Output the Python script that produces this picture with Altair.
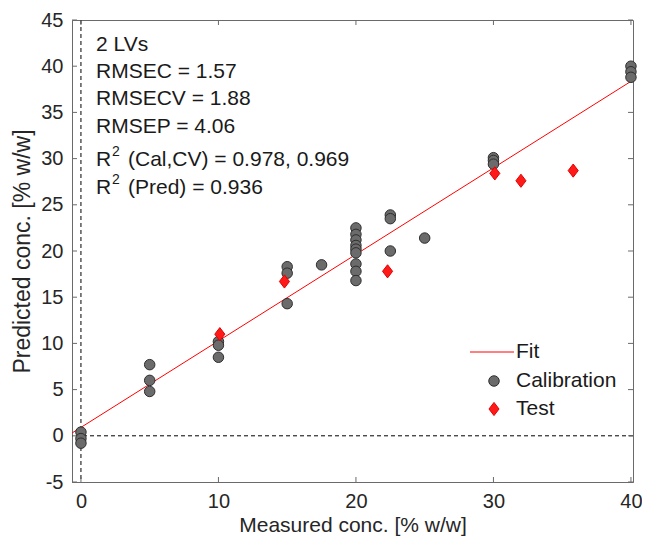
import altair as alt
import pandas as pd

# ---- data ----
cal_x = [0, 0, 0, 5, 5, 5, 10, 10, 10, 15, 15, 15, 17.5,
         20, 20, 20, 20, 20, 20, 20, 20, 20,
         22.5, 22.5, 22.5, 25, 30, 30, 30, 40, 40, 40]
cal_y = [0.4, -0.3, -0.8, 7.7, 6.0, 4.8, 10.2, 9.8, 8.5, 18.3, 17.6, 14.3, 18.5,
         22.5, 21.8, 21.2, 20.6, 20.2, 19.8, 18.6, 17.8, 16.8,
         23.9, 23.5, 20.0, 21.4, 30.1, 29.8, 29.4, 40.0, 39.4, 38.8]
test_x = [10.1, 14.8, 22.3, 30.1, 32.0, 35.8]
test_y = [11.0, 16.7, 17.8, 28.4, 27.6, 28.7]
fit_x = [-0.65, 40.15]
fit_y = [0.3, 38.5]
x_ticks = [0, 10, 20, 30, 40]
y_ticks = [-5, 0, 5, 10, 15, 20, 25, 30, 35, 40, 45]
stats_lines = ["2 LVs", "RMSEC = 1.57", "RMSECV = 1.88", "RMSEP = 4.06"]
r2_lines = ["(Cal,CV) = 0.978, 0.969", "(Pred) = 0.936"]
legend_labels = ["Fit", "Calibration", "Test"]

W, H = 561, 462
FONT = "Liberation Sans"
AX = "#6a6a6a"
TXT = "#1a1a1a"

xs = alt.Scale(domain=[-0.65, 40.15], nice=False, zero=False)
ys = alt.Scale(domain=[-5, 45], nice=False, zero=False)

cal = pd.DataFrame({"x": cal_x, "y": cal_y})
test = pd.DataFrame({"x": test_x, "y": test_y})
fit = pd.DataFrame({"x": fit_x, "y": fit_y})
xt = pd.DataFrame({"v": x_ticks})
yt = pd.DataFrame({"v": y_ticks})
one = pd.DataFrame({"v": [0]})

X = lambda f="x": alt.X(f + ":Q", scale=xs)
Y = lambda f="y": alt.Y(f + ":Q", scale=ys)

base_axes = alt.Chart(cal).mark_point(opacity=0).encode(
    x=alt.X("x:Q", scale=xs, axis=alt.Axis(
        values=x_ticks, title="Measured conc. [% w/w]", grid=False, ticks=False,
        labelPadding=9, domainColor=AX, titleFontSize=21,
        titleBaseline="alphabetic", titleY=49,
        labelExpr="'' + datum.value")),
    y=alt.Y("y:Q", scale=ys, axis=alt.Axis(
        values=y_ticks, title="Predicted conc. [% w/w]", grid=False, ticks=False,
        labelPadding=9, titlePadding=6, domainColor=AX,
        labelExpr="'' + datum.value")),
)

zero_v = alt.Chart(one).mark_rule(color="#000", strokeDash=[4, 3], strokeWidth=1).encode(x=X("v"))
zero_h = alt.Chart(one).mark_rule(color="#000", strokeDash=[4, 3], strokeWidth=1).encode(y=Y("v"))

tb = alt.Chart(xt).mark_rule(color=AX).encode(x=X("v"), y=alt.value(H), y2=alt.value(H - 5))
tt = alt.Chart(xt).mark_rule(color=AX).encode(x=X("v"), y=alt.value(0), y2=alt.value(5))
tl = alt.Chart(yt).mark_rule(color=AX).encode(y=Y("v"), x=alt.value(0), x2=alt.value(5))
tr = alt.Chart(yt).mark_rule(color=AX).encode(y=Y("v"), x=alt.value(W), x2=alt.value(W - 5))

fit_line = alt.Chart(fit).mark_line(color="#ff0000", strokeWidth=1).encode(x=X(), y=Y())

CIRC = dict(shape="circle", filled=True, fill="#6b6b6b", stroke="#2e2e2e",
            strokeWidth=1, size=110, opacity=1)
DIAMOND = "M0,-1.2L0.92,0L0,1.2L-0.92,0Z"
DIA = dict(shape=DIAMOND, filled=True, fill="#ff1a1a", stroke="#e00000",
           strokeWidth=1, size=120, opacity=1)

cal_pts = alt.Chart(cal).mark_point(**CIRC).encode(x=X(), y=Y())
test_pts = alt.Chart(test).mark_point(**DIA).encode(x=X(), y=Y())

layers = [base_axes, zero_v, zero_h, tb, tt, tl, tr, fit_line, cal_pts, test_pts]

# ---- annotation text ----
TX = 24
FS = 21
for t, py in zip(stats_lines, [31, 58, 85, 113]):
    layers.append(alt.Chart(one).mark_text(
        align="left", baseline="alphabetic", font=FONT, fontSize=FS, color=TXT, text=t
    ).encode(x=alt.value(TX), y=alt.value(py)))
for t, py in zip(r2_lines, [146, 174]):
    layers.append(alt.Chart(one).mark_text(
        align="left", baseline="alphabetic", font=FONT, fontSize=FS, color=TXT, text="R"
    ).encode(x=alt.value(TX), y=alt.value(py)))
    layers.append(alt.Chart(one).mark_text(
        align="left", baseline="alphabetic", font=FONT, fontSize=14, color=TXT, text="2"
    ).encode(x=alt.value(TX + 16), y=alt.value(py - 10)))
    layers.append(alt.Chart(one).mark_text(
        align="left", baseline="alphabetic", font=FONT, fontSize=FS, color=TXT, text=t
    ).encode(x=alt.value(TX + 32), y=alt.value(py)))

# ---- manual legend ----
LX = 422
lg_y = [332, 361, 389]
for t, py in zip(legend_labels, lg_y):
    layers.append(alt.Chart(one).mark_text(
        align="left", baseline="middle", font=FONT, fontSize=FS, color=TXT, text=t
    ).encode(x=alt.value(LX + 22), y=alt.value(py)))
layers.append(alt.Chart(one).mark_rule(color="#ff0000", strokeWidth=1).encode(
    x=alt.value(LX - 24), x2=alt.value(LX + 20), y=alt.value(lg_y[0])))
layers.append(alt.Chart(one).mark_point(**CIRC).encode(x=alt.value(LX), y=alt.value(lg_y[1])))
layers.append(alt.Chart(one).mark_point(**DIA).encode(x=alt.value(LX), y=alt.value(lg_y[2])))

chart = alt.layer(*layers).properties(
    width=W, height=H,
    autosize=alt.AutoSizeParams(type="none"),
    padding={"left": 64, "top": 12, "right": 9, "bottom": 55},
    background="white",
).configure_view(stroke=AX, strokeWidth=1).configure_axis(
    labelFont=FONT, titleFont=FONT, labelFontSize=20, titleFontSize=23,
    labelColor="#262626", titleColor="#262626", titleFontWeight="normal",
    domainWidth=1,
)

chart.save("out.html", embed_options={"renderer": "svg", "actions": False})
